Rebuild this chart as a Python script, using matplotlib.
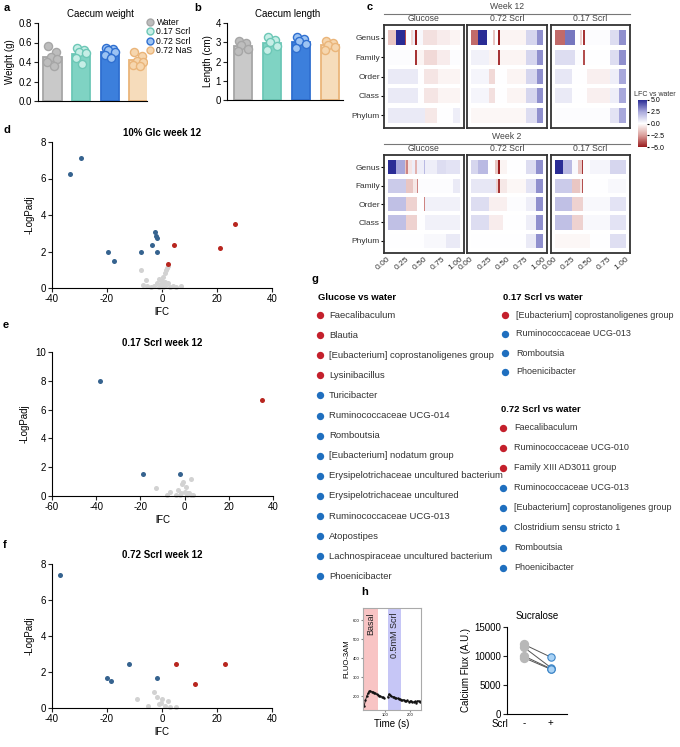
import matplotlib
matplotlib.use('Agg')
import numpy as np
import matplotlib.pyplot as plt
from matplotlib.colors import LinearSegmentedColormap, Normalize
from matplotlib.lines import Line2D
import matplotlib.cm as cm

plt.rcParams['font.family'] = ['Liberation Sans', 'DejaVu Sans']
plt.rcParams['axes.linewidth'] = 0.8
plt.rcParams['xtick.major.width'] = 0.8
plt.rcParams['ytick.major.width'] = 0.8
plt.rcParams['axes.unicode_minus'] = False

W, H = 680, 747

# ---- panel a / b data
groups = ['Water', '0.17 Scrl', '0.72 Scrl', '0.72 NaS']
caecum_weight = [[0.56, 0.50, 0.45, 0.43, 0.40, 0.36],
                 [0.54, 0.52, 0.50, 0.49, 0.44, 0.38],
                 [0.54, 0.53, 0.52, 0.50, 0.47, 0.44],
                 [0.50, 0.46, 0.41, 0.40, 0.37, 0.36]]
caecum_length = [[3.05, 2.95, 2.85, 2.65, 2.55],
                 [3.25, 3.1, 3.0, 2.8, 2.6],
                 [3.25, 3.15, 3.05, 2.9, 2.7],
                 [3.05, 2.95, 2.85, 2.75, 2.6]]

# ---- panel c data: each row = list of (segment right edge, LFC)
tax_rows = ['Genus', 'Family', 'Order', 'Class', 'Phylum']
wk12_glucose = {
    'Genus': [(0.11, -1.5), (0.24, 5), (0.26, -4), (0.32, 0), (0.35, -1), (0.38, 0.5), (0.40, -5),
              (0.49, 0.2), (0.68, -0.8), (0.86, -0.5), (1.0, -0.3)],
    'Family': [(0.38, 0.1), (0.40, -4.5), (0.50, -0.3), (0.68, -1), (0.86, -0.5), (1.0, 0.1)],
    'Order': [(0.42, 0.6), (0.50, 0), (0.70, -0.7), (1.0, -0.3)],
    'Class': [(0.42, 0.6), (0.50, 0), (0.70, -0.7), (1.0, -0.3)],
    'Phylum': [(0.52, 0.6), (0.68, -0.6), (0.90, 0), (1.0, 0.5)],
}
wk12_scrl072 = {
    'Genus': [(0.10, -3.5), (0.23, 5), (0.31, 0), (0.34, -1.5), (0.38, 0), (0.40, -5),
              (0.77, -0.3), (0.91, 1.2), (1.0, 3)],
    'Family': [(0.25, 0.4), (0.38, -0.3), (0.40, -4.5), (0.77, -0.3), (0.91, 1.2), (1.0, 3)],
    'Order': [(0.25, 0.3), (0.33, -1), (0.50, 0), (0.77, -0.3), (0.91, 1.2), (1.0, 3)],
    'Class': [(0.25, 0.3), (0.33, -0.8), (0.50, 0), (0.77, -0.3), (0.91, 1.2), (1.0, 3)],
    'Phylum': [(0.77, -0.2), (0.91, 1), (1.0, 3)],
}
wk12_scrl017 = {
    'Genus': [(0.15, -3.5), (0.28, 3.5), (0.35, 0), (0.38, -1.2), (0.40, 0), (0.42, -4.5),
              (0.77, 0.1), (0.90, 1), (1.0, 3)],
    'Family': [(0.28, 1), (0.40, 0.1), (0.42, -4), (0.77, 0), (0.90, 1), (1.0, 3)],
    'Order': [(0.25, 0.7), (0.45, 0), (0.77, -0.4), (0.90, 0.5), (1.0, 2.5)],
    'Class': [(0.25, 0.6), (0.45, 0), (0.77, -0.4), (0.90, 0.5), (1.0, 2.5)],
    'Phylum': [(0.77, 0.1), (0.90, 0.8), (1.0, 2.5)],
}
wk2_glucose = {
    'Genus': [(0.12, 5), (0.24, 2.5), (0.26, -1.5), (0.28, -3), (0.33, -0.7), (0.38, 0.5),
              (0.40, -2), (0.50, 0.5), (0.51, 2), (0.68, 0.5), (0.80, 1), (1.0, 0.8)],
    'Family': [(0.25, 1.5), (0.35, -1.5), (0.40, -0.6), (0.42, -3), (0.90, 0.1), (1.0, 0.6)],
    'Order': [(0.25, 1.8), (0.40, -1.2), (0.50, 0), (0.51, -3), (1.0, 0.4)],
    'Class': [(0.25, 1.8), (0.40, -1.2), (0.52, 0), (1.0, 0.4)],
    'Phylum': [(0.50, 0), (0.80, 0.2), (1.0, 0.6)],
}
wk2_scrl072 = {
    'Genus': [(0.10, 1.2), (0.24, 2), (0.34, 0), (0.38, -1.5), (0.40, -5), (0.50, -0.3),
              (0.77, 0), (0.90, 1), (1.0, 3)],
    'Family': [(0.35, 0.7), (0.38, -1.2), (0.40, -4.5), (0.50, -0.6), (0.77, -0.2), (0.90, 0.8), (1.0, 3)],
    'Order': [(0.25, 1), (0.50, -0.4), (0.77, 0.1), (0.90, 0.5), (1.0, 3)],
    'Class': [(0.25, 1), (0.45, -0.5), (0.77, 0), (0.90, 0.5), (1.0, 3)],
    'Phylum': [(0.77, 0), (0.90, 0.6), (1.0, 3)],
}
wk2_scrl017 = {
    'Genus': [(0.12, 5), (0.24, 2), (0.33, 0.2), (0.38, -1.5), (0.40, -4.5), (0.49, 0.1),
              (0.77, 0.3), (0.78, 4), (1.0, 1.2)],
    'Family': [(0.25, 1.5), (0.35, -1.5), (0.38, -0.6), (0.40, -4), (0.75, 0), (1.0, 0.2)],
    'Order': [(0.25, 1.8), (0.40, -1.2), (0.77, 0.2), (1.0, 0.8)],
    'Class': [(0.25, 1.8), (0.40, -1.2), (0.77, 0.2), (1.0, 0.8)],
    'Phylum': [(0.50, -0.2), (0.77, 0), (1.0, 0.9)],
}
heat_titles = ['Glucose', '0.72 Scrl', '0.17 Scrl']

# ---- volcano data
glc_blue_x = [-33.5, -29.5, -19.5, -17.5, -7.5, -3.5, -2.5, -2.3, -2.0, -2.0]
glc_blue_y = [6.25, 7.1, 2.0, 1.5, 1.95, 2.35, 3.05, 2.85, 2.75, 2.0]
glc_red_x = [2.2, 4.5, 21, 26.5]
glc_red_y = [1.3, 2.35, 2.2, 3.5]
glc_grey_x = [-7.5, -6, -7, -5.5, -3, -2, -1, 0, 0.5, 1, 1.5, 1.8, 2, 0.5, 1, 2, 3, 4, 5, 7, -1, -4, 0.2, 1.2, -0.5]
glc_grey_y = [1.0, 0.45, 0.15, 0.1, 0.1, 0.3, 0.5, 0.4, 0.6, 0.8, 1.0, 1.1, 1.2, 0.2, 0.1, 0.3, 0.05, 0.1, 0.05, 0.1, 0.05, 0.05, 0.05, 0.35, 0.2]

s017_blue_x = [-38.5, -19, -2]
s017_blue_y = [8.0, 1.5, 1.5]
s017_red_x = [35]
s017_red_y = [6.7]
s017_grey_x = [3, -13, -6.5, -3, -1, -0.5, 0, 1, 2, 3, -2, -4, -8, 0.5, 1.5, 4, -1.5]
s017_grey_y = [1.15, 0.55, 0.3, 0.4, 0.8, 1.0, 0.3, 0.1, 0.2, 0.05, 0.1, 0.05, 0.05, 0.6, 0.2, 0.05, 0.2]

s072_blue_x = [-37, -20, -18.5, -12, -2]
s072_blue_y = [7.4, 1.65, 1.5, 2.45, 1.65]
s072_red_x = [5, 23, 12]
s072_red_y = [2.45, 2.45, 1.35]
s072_grey_x = [-3, -9, -2, 0, 2, -1, 1, 3, -5, 5, -0.5]
s072_grey_y = [0.9, 0.5, 0.6, 0.5, 0.4, 0.2, 0.1, 0.05, 0.1, 0.05, 0.3]

# ---- panel g data
glucose_up = ['Faecalibaculum', 'Blautia', '[Eubacterium] coprostanoligenes group', 'Lysinibacillus']
glucose_down = ['Turicibacter', 'Ruminococcaceae UCG-014', 'Romboutsia', '[Eubacterium] nodatum group',
                'Erysipelotrichaceae uncultured bacterium', 'Erysipelotrichaceae uncultured',
                'Ruminococcaceae UCG-013', 'Atopostipes', 'Lachnospiraceae uncultured bacterium',
                'Phoenicibacter']
scrl017_up = ['[Eubacterium] coprostanoligenes group']
scrl017_down = ['Ruminococcaceae UCG-013', 'Romboutsia', 'Phoenicibacter']
scrl072_up = ['Faecalibaculum', 'Ruminococcaceae UCG-010', 'Family XIII AD3011 group']
scrl072_down = ['Ruminococcaceae UCG-013', '[Eubacterium] coprostanoligenes group',
                'Clostridium sensu stricto 1', 'Romboutsia', 'Phoenicibacter']

# ---- panel h data
time_basal = [15, 20, 25, 30, 35, 40, 45, 50, 55, 60, 65, 70, 75, 80, 85, 90, 95]
fluo_basal = [150, 178, 200, 215, 225, 228, 224, 222, 218, 215, 210, 207, 203, 200, 197, 193, 190]
time_scrl = [110, 115, 120, 125, 130, 135, 140, 145, 150, 155, 160, 165, 170, 175, 180, 185,
             190, 195, 200, 205, 210, 215, 220, 225, 230, 235, 240, 245]
fluo_scrl = [195, 212, 205, 200, 198, 196, 192, 190, 188, 186, 184, 180, 178, 182, 176, 174,
             178, 170, 172, 175, 168, 170, 172, 166, 174, 176, 170, 174]
flux_minus = [12000, 11500, 10000, 9700]
flux_plus = [9800, 8000, 7800, 7700]

bar_fill = ['#c9c9c9', '#7fd3c3', '#3c7fdc', '#f6dcbb']
bar_edge = ['#a6a6a6', '#6cc7b6', '#2f6fd0', '#eab57a']
dot_fill = ['#bdbdbd', '#c6eee6', '#9cc3f3', '#f6d6ae']
BLUE = '#36638f'
RED = '#b8261f'
GREY = '#d2d2d2'


def add_ax(fig, l, t, r, b):
    return fig.add_axes([l / W, 1 - b / H, (r - l) / W, (b - t) / H])


def style(ax, size=7):
    ax.spines['top'].set_visible(False)
    ax.spines['right'].set_visible(False)
    ax.tick_params(labelsize=size, length=3, pad=1.5, color='#222')


def bar_panel(ax, values, ylim, yticks, fmt, ylabel, offs):
    for i, vals in enumerate(values):
        ax.bar(i, np.mean(vals), width=0.64, color=bar_fill[i], edgecolor=bar_edge[i], linewidth=1.3)
        ax.scatter(np.array(offs[:len(vals)]) + i, vals, s=34, color=dot_fill[i],
                   edgecolor=bar_edge[i], linewidth=1.0, zorder=3)
    ax.set_ylim(*ylim)
    ax.set_yticks(yticks)
    ax.set_yticklabels([fmt.format(v) for v in yticks])
    ax.set_xticks([])
    ax.set_ylabel(ylabel, fontsize=7, labelpad=2)
    style(ax)


cmap = LinearSegmentedColormap.from_list(
    'lfc', [(0, '#9a1b1d'), (0.25, '#dba09c'), (0.5, '#ffffff'), (0.75, '#a9a9dc'), (1, '#2a2c95')])
norm = Normalize(-5, 5)


def heat_panel(ax, data, show_y, show_x):
    for i, row in enumerate(tax_rows):
        left = 0
        for end, v in data[row]:
            ax.barh(i, end - left, left=left, height=0.78, color=cmap(norm(v)), linewidth=0)
            left = end
    ax.set_xlim(-0.05, 1.055)
    ax.set_ylim(4.66, -0.67)
    for s in ax.spines.values():
        s.set_linewidth(1.3)
        s.set_color('#333')
    ax.set_yticks(range(5))
    if show_y:
        ax.set_yticklabels(tax_rows, fontsize=6, color='#333')
        ax.tick_params(axis='y', length=2, pad=1)
    else:
        ax.tick_params(axis='y', length=0, labelleft=False)
    if show_x:
        ax.set_xticks([0, 0.25, 0.5, 0.75, 1.0])
        ax.set_xticklabels(['0.00', '0.25', '0.50', '0.75', '1.00'], fontsize=6, color='#333',
                           rotation=40, ha='right', rotation_mode='anchor')
        ax.tick_params(axis='x', length=0, pad=2)
    else:
        ax.set_xticks([])


def volcano(ax, gx, gy, bx, by, rx, ry, xlim, ylim, xticks, yticks, title):
    ax.scatter(gx, gy, s=13, color=GREY, linewidth=0, zorder=2, clip_on=False)
    ax.scatter(bx, by, s=13, color=BLUE, linewidth=0, zorder=3, clip_on=False)
    ax.scatter(rx, ry, s=13, color=RED, linewidth=0, zorder=3, clip_on=False)
    ax.set_xlim(*xlim)
    ax.set_ylim(*ylim)
    ax.set_xticks(xticks)
    ax.set_yticks(yticks)
    ax.set_xlabel('lFC', fontsize=7, labelpad=2)
    ax.set_ylabel('-LogPadj', fontsize=7, labelpad=4)
    ax.set_title(title, fontsize=7, fontweight='bold', pad=4)
    style(ax)


def main():
    fig = plt.figure(figsize=(W / 100, H / 100), dpi=100)
    ov = fig.add_axes([0, 0, 1, 1])
    ov.set_xlim(0, W)
    ov.set_ylim(H, 0)
    ov.axis('off')

    # panel letters
    for letter, x, y in [('a', 4, 8), ('b', 194, 8), ('c', 367, 7), ('d', 3, 130),
                         ('e', 3, 325), ('f', 3, 545), ('g', 311, 279), ('h', 361, 592)]:
        ov.text(x, y, letter, fontsize=8, fontweight='bold', va='center')

    # a, b
    offs = [-0.14, 0.12, -0.06, 0.17, -0.18, 0.05]
    ax_a = add_ax(fig, 38, 23, 147, 101)
    bar_panel(ax_a, caecum_weight, (0, 0.8), [0, 0.2, 0.4, 0.6, 0.8], '{:.1f}', 'Weight (g)', offs)
    ax_a.set_xlim(-0.5, 3.3)
    ov.text(100, 14, 'Caecum weight', fontsize=7, ha='center', va='center')
    ov.text(97, 27, 'ns', fontsize=5, ha='center', va='center')
    handles = [Line2D([], [], marker='o', ls='', markersize=5, markerfacecolor=dot_fill[i],
                      markeredgecolor=bar_edge[i]) for i in range(4)]
    ax_a.legend(handles, groups, loc='upper left', bbox_to_anchor=(147 / W, 1 - 18 / H),
                bbox_transform=fig.transFigure, frameon=False, fontsize=6.2, handlelength=0.8,
                handletextpad=0.3, labelspacing=0.05, borderpad=0, borderaxespad=0)

    ax_b = add_ax(fig, 227, 23, 343, 100)
    bar_panel(ax_b, caecum_length, (0, 4), [0, 1, 2, 3, 4], '{:.0f}', 'Length (cm)', offs)
    ax_b.set_xlim(-0.55, 3.45)
    ov.text(288, 14, 'Caecum length', fontsize=7, ha='center', va='center')
    ov.text(292, 26, 'ns', fontsize=5, ha='center', va='center')

    # c
    boxes = [(384, 464), (467, 547), (551, 630)]
    for week, data_sets, (top, bot), show_x in [
            ('Week 12', [wk12_glucose, wk12_scrl072, wk12_scrl017], (25, 128), False),
            ('Week 2', [wk2_glucose, wk2_scrl072, wk2_scrl017], (155, 253), True)]:
        for j, ((l, r), d) in enumerate(zip(boxes, data_sets)):
            ax = add_ax(fig, l, top, r, bot)
            heat_panel(ax, d, j == 0, show_x)
            ov.text((l + r) / 2, top - 2, heat_titles[j], fontsize=6.2, color='#444',
                    ha='center', va='bottom')
        ov.text(507, top - 14, week, fontsize=6.2, color='#444', ha='center', va='bottom')
        ov.plot([384, 630], [top - 11, top - 11], color='#777', lw=0.8)

    cax = add_ax(fig, 638, 100, 647, 147)
    cb = fig.colorbar(cm.ScalarMappable(norm=norm, cmap=cmap), cax=cax)
    cb.outline.set_visible(False)
    cb.set_ticks([5, 2.5, 0, -2.5, -5])
    cb.set_ticklabels(['5.0', '2.5', '0.0', '\u22122.5', '\u22125.0'])
    cax.tick_params(labelsize=5, length=1.5, pad=1)
    ov.text(634, 94, 'LFC vs water', fontsize=5, color='#333', va='center')

    # d, e, f
    ax_d = add_ax(fig, 52, 142, 272, 288)
    volcano(ax_d, glc_grey_x, glc_grey_y, glc_blue_x, glc_blue_y, glc_red_x, glc_red_y,
            (-40, 40), (0, 8), [-40, -20, 0, 20, 40], [0, 2, 4, 6, 8], '10% Glc week 12')
    ax_e = add_ax(fig, 52, 352, 273, 496)
    volcano(ax_e, s017_grey_x, s017_grey_y, s017_blue_x, s017_blue_y, s017_red_x, s017_red_y,
            (-60, 40), (0, 10), [-60, -40, -20, 0, 20, 40], [0, 2, 4, 6, 8, 10], '0.17 Scrl week 12')
    ax_f = add_ax(fig, 52, 564, 272, 708)
    volcano(ax_f, s072_grey_x, s072_grey_y, s072_blue_x, s072_blue_y, s072_red_x, s072_red_y,
            (-40, 40), (0, 8), [-40, -20, 0, 20, 40], [0, 2, 4, 6, 8], '0.72 Scrl week 12')

    # g
    g_red, g_blue = '#c4202c', '#1f6fbf'

    def g_list(x, y0, heading, up, down, step=20.1, tx=11, fs=6.8):
        ov.text(x, y0, heading, fontsize=6.8, fontweight='bold', va='center')
        y = y0 + 18
        for names, col in [(up, g_red), (down, g_blue)]:
            for n in names:
                ov.scatter([x + 2], [y], s=28, color=col, linewidth=0)
                ov.text(x + tx, y, n, fontsize=fs, color='#333', va='center')
                y += step

    g_list(318, 297, 'Glucose vs water', glucose_up, glucose_down)
    g_list(503, 297, '0.17 Scrl vs water', scrl017_up, scrl017_down, step=19, tx=13, fs=6.5)
    g_list(501, 410, '0.72 Scrl vs water', scrl072_up, scrl072_down, step=20, tx=13, fs=6.5)

    # h left trace
    ax_h1 = add_ax(fig, 363, 608, 421, 710)
    ax_h1.axvspan(10, 70, color='#f8c4c4', lw=0)
    ax_h1.axvspan(110, 162, color='#c6c6f6', lw=0)
    ax_h1.plot(time_basal, fluo_basal, color='#111', lw=0.6, marker='.', markersize=1.5)
    ax_h1.plot(time_scrl, fluo_scrl, color='#111', lw=0.6, marker='.', markersize=1.5)
    ax_h1.set_xlim(10, 245)
    ax_h1.set_ylim(127, 665)
    ax_h1.set_xticks([100, 200])
    ax_h1.set_yticks([200, 300, 400, 500, 600])
    ax_h1.tick_params(labelsize=3, length=1.5, pad=1, color='#888')
    for s in ax_h1.spines.values():
        s.set_color('#aaa')
        s.set_linewidth(0.8)
    ax_h1.text(40, 640, 'Basal', rotation=90, fontsize=6.5, ha='center', va='top', color='#222')
    ax_h1.text(136, 640, '0.5mM Scrl', rotation=90, fontsize=6.5, ha='center', va='top', color='#222')
    ax_h1.set_xlabel('Time (s)', fontsize=7, labelpad=1)
    ax_h1.set_ylabel('FLUO-3AM', fontsize=5.5, labelpad=2)

    # h right paired points
    ax_h2 = add_ax(fig, 507, 627, 567, 714)
    for a, b in zip(flux_minus, flux_plus):
        ax_h2.plot([0, 1], [a, b], color='#555', lw=0.7, zorder=1)
    ax_h2.scatter([0] * len(flux_minus), flux_minus, s=45, color='#b8b8b8', linewidth=0, zorder=2)
    ax_h2.scatter([1] * len(flux_plus), flux_plus, s=28, color='#a9d2f5', edgecolor='#3d85c6',
                  linewidth=0.8, zorder=2)
    ax_h2.set_xlim(-0.63, 1.6)
    ax_h2.set_ylim(0, 15000)
    ax_h2.set_yticks([0, 5000, 10000, 15000])
    ax_h2.set_xticks([0, 1])
    ax_h2.set_xticklabels(['-', '+'])
    ax_h2.set_ylabel('Calcium Flux (A.U.)', fontsize=7, labelpad=2)
    ax_h2.set_title('Sucralose', fontsize=7, pad=6)
    style(ax_h2)
    ax_h2.tick_params(axis='x', length=0, pad=3)
    ov.text(500, 724, 'Scrl', fontsize=7, ha='center', va='center')
    ov.text(537, 631, 'p=0.0184', fontsize=5.5, ha='center', va='center')

    fig.savefig('out.png', dpi=100)


if __name__ == '__main__':
    main()
